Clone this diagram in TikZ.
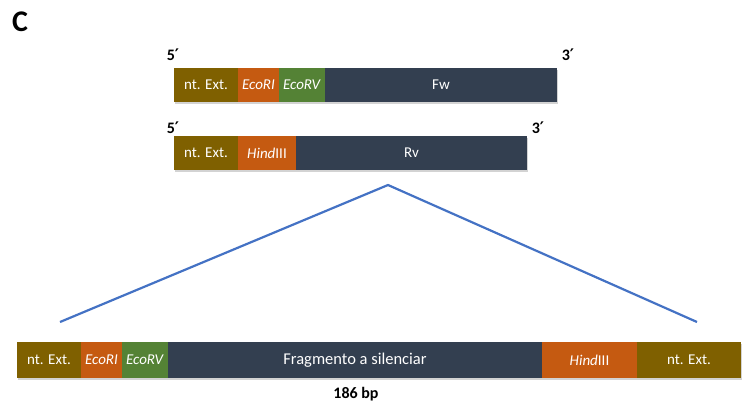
\documentclass[tikz,border=0pt]{standalone}
\usepackage{fontspec}
\setmainfont{Carlito}
\newfontfamily\primefont{DejaVu Sans}
\usetikzlibrary{shadows}
\definecolor{ntext}{HTML}{7F6000}
\definecolor{ecori}{HTML}{C55A11}
\definecolor{ecorv}{HTML}{548235}
\definecolor{darkseg}{HTML}{333F50}
\definecolor{lineblue}{HTML}{4472C4}
\newcommand{\pr}{{\primefont\bfseries ′}}
\begin{document}
\begin{tikzpicture}[x=1pt,y=-1pt,
  seg/.style={rectangle, inner sep=0pt, minimum height=34pt, text=white,
    font=\fontsize{15}{17}\selectfont,
    drop shadow={shadow xshift=1pt, shadow yshift=-1.5pt, opacity=0.35}},
  segbig/.style={seg, minimum height=36pt},
  endlbl/.style={font=\bfseries\fontsize{16}{18}\selectfont, inner sep=0pt},
  zoomline/.style={draw=lineblue, line width=2.2pt}]
\useasboundingbox (0,0) rectangle (743,408);
\node[font=\bfseries\fontsize{30}{32}\selectfont, inner sep=0pt] (panel) at (20,22) {C};
% Fw primer
\node[seg, fill=ntext, minimum width=64pt] (ntA) at (206,85) {nt. Ext.};
\node[seg, fill=ecori, minimum width=41pt] (ecoA) at (258.5,85) {\textit{EcoRI}};
\node[seg, fill=ecorv, minimum width=46pt] (ecovA) at (302,85) {\textit{EcoRV}};
\node[seg, fill=darkseg, minimum width=232pt] (fw) at (441,85) {Fw};
\node[endlbl] (p5a) at (173,55) {5\pr};
\node[endlbl] (p3a) at (568,55) {3\pr};
% Rv primer
\node[seg, fill=ntext, minimum width=64pt] (ntB) at (206,153) {nt. Ext.};
\node[seg, fill=ecori, minimum width=58pt] (hindB) at (267,153) {\textit{Hind}III};
\node[seg, fill=darkseg, minimum width=231pt] (rv) at (411.5,153) {Rv};
\node[endlbl] (p5b) at (173,128) {5\pr};
\node[endlbl] (p3b) at (538,128) {3\pr};
% zoom lines
\coordinate (apex) at (388,185);
\coordinate (leftend) at (60,322);
\coordinate (rightend) at (697,322);
\draw[zoomline] (leftend) -- (apex) -- (rightend);
% full fragment
\node[segbig, fill=ntext, minimum width=64pt] (ntC) at (49,360) {nt. Ext.};
\node[segbig, fill=ecori, minimum width=41pt] (ecoC) at (101.5,360) {\textit{EcoRI}};
\node[segbig, fill=ecorv, minimum width=46pt] (ecovC) at (145,360) {\textit{EcoRV}};
\node[segbig, fill=darkseg, minimum width=374pt, font=\fontsize{16.5}{18}\selectfont] (frag) at (355,360) {Fragmento a silenciar};
\node[segbig, fill=ecori, minimum width=95pt] (hindC) at (589.5,360) {\textit{Hind}III};
\node[segbig, fill=ntext, minimum width=104pt] (ntD) at (689,360) {nt. Ext.};
\node[font=\bfseries\fontsize{16}{18}\selectfont, inner sep=0pt] (bp) at (356,394) {186 bp};
\end{tikzpicture}
\end{document}
